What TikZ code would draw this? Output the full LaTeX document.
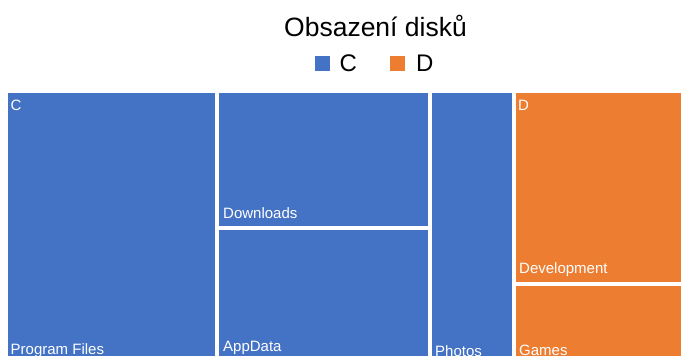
\documentclass[tikz,border=0pt]{standalone}
\usepackage{fontspec}
\setmainfont{Liberation Sans}
\definecolor{diskc}{HTML}{4472C4}
\definecolor{diskd}{HTML}{ED7D31}
\newcommand{\filltile}[5]{%
\fill[#5] (#1,#2) rectangle (#3,#4);
}
\newcommand{\nametile}[4]{%
\node[tilelabel] (#3) at (#1,#2) {#4};
}

\begin{document}
\begin{tikzpicture}[x=1pt, y=-1pt,
  tilelabel/.style={anchor=base west, inner sep=0pt, text=white, font=\fontsize{15}{17}\selectfont},
  legendbox/.style={minimum size=15pt, inner sep=0pt}]

\useasboundingbox (0,0) rectangle (681,356);
\clip (0,0) rectangle (681,356);

% title and legend
\node[anchor=base, inner sep=0pt, font=\fontsize{26.5}{30}\selectfont] (title) at (375.5,36) {Obsazení disků};

\node[legendbox, fill=diskc] (keyc) at (322.5,63.5) {};
\node[anchor=base west, inner sep=0pt, font=\fontsize{24}{28}\selectfont] (textc) at (339.5,71) {C};
\node[legendbox, fill=diskd] (keyd) at (397.5,63.5) {};
\node[anchor=base west, inner sep=0pt, font=\fontsize{24}{28}\selectfont] (textd) at (416,71) {D};

% disk C
\filltile{7.5}{93}{214.5}{362}{diskc}
\filltile{219}{93}{427.5}{225.7}{diskc}
\filltile{219}{229.7}{427.5}{362}{diskc}
\filltile{431.5}{93}{511.7}{362}{diskc}

\nametile{10.5}{110}{diskclabel}{C}
\nametile{10.5}{354}{programfiles}{Program Files}
\nametile{223}{218}{downloads}{Downloads}
\nametile{223}{351}{appdata}{AppData}
\nametile{435}{356}{photos}{Photos}

% disk D
\filltile{515.5}{93}{681}{281.7}{diskd}
\filltile{515.5}{285.7}{681}{362}{diskd}

\nametile{518}{110}{diskdlabel}{D}
\nametile{519}{273}{development}{Development}
\nametile{519}{355}{games}{Games}

\end{tikzpicture}
\end{document}
